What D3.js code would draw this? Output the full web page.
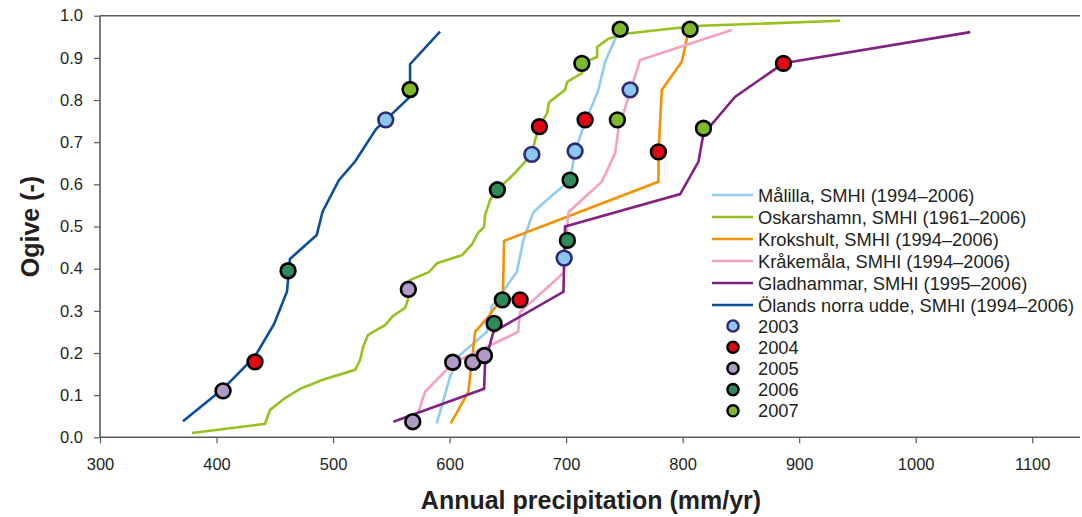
<!DOCTYPE html>
<html>
<head>
<meta charset="utf-8">
<script src="https://cdn.jsdelivr.net/npm/d3@7"></script>
<style>
  body { margin: 0; background: #fff; }
  text { font-family: "Liberation Sans", Arial, sans-serif; fill: #231f20; }
</style>
</head>
<body>
<div id="chart"></div>
<script>
// ogive curves, [annual precipitation mm/yr, ogive]
var malilla = [[589.0,0.033],[600.4,0.144],[609.0,0.195],[631.9,0.250],[636.2,0.310],[657.7,0.392],
  [663.3,0.468],[671.9,0.534],[683.4,0.563],[703.4,0.610],[707.7,0.679],[713.5,0.725],[720.6,0.776],
  [727.7,0.824],[733.5,0.891],[744.9,0.962]];
var oskarshamn = [[379.0,0.010],[441.6,0.032],[445.9,0.065],[458.8,0.093],[471.7,0.115],[490.6,0.136],
  [518.9,0.160],[523.2,0.183],[525.8,0.214],[530.0,0.243],[544.6,0.266],[551.5,0.288],[561.8,0.307],
  [564.4,0.328],[566.1,0.373],[582.4,0.392],[589.3,0.413],[610.7,0.432],[619.3,0.458],[624.5,0.485],
  [629.6,0.499],[630.5,0.527],[634.8,0.563],[640.8,0.587],[656.2,0.627],[670.8,0.672],[673.4,0.705],
  [676.8,0.736],[683.7,0.769],[685.4,0.795],[699.1,0.824],[700.9,0.843],[713.7,0.864],[713.7,0.888],
  [726.6,0.902],[726.6,0.926],[736.1,0.945],[743.8,0.952],[750.6,0.957],[785.0,0.968],[815.0,0.976],
  [935.2,0.988]];
var krokshult = [[601.0,0.033],[616.1,0.108],[621.9,0.250],[633.0,0.285],[645.7,0.333],[646.8,0.466],
  [779.2,0.606],[779.4,0.681],[782.1,0.824],[799.3,0.891],[803.6,0.946],[805.6,0.961]];
var krakemala = [[573.0,0.058],[579.0,0.108],[603.0,0.176],[658.8,0.250],[660.5,0.297],[697.7,0.390],
  [700.6,0.487],[702.0,0.534],[730.6,0.606],[742.1,0.674],[744.9,0.731],[763.5,0.895],[842.2,0.966]];
var gladhammar = [[551.8,0.037],[629.6,0.115],[630.5,0.179],[637.6,0.250],[697.7,0.345],[699.1,0.500],
  [797.9,0.577],[813.6,0.654],[817.8,0.719],[845.1,0.808],[886.5,0.887],[1046.8,0.961]];
var oland = [[371.2,0.038],[405.6,0.115],[433.0,0.192],[449.4,0.269],[460.5,0.346],[463.0,0.423],
  [486.0,0.480],[491.0,0.535],[505.0,0.610],[518.9,0.654],[536.9,0.731],[566.1,0.808],[566.1,0.885],
  [591.8,0.962]];

var seriesNames = ["Målilla, SMHI (1994–2006)", "Oskarshamn, SMHI (1961–2006)", "Krokshult, SMHI (1994–2006)",
  "Kråkemåla, SMHI (1994–2006)", "Gladhammar, SMHI (1995–2006)", "Ölands norra udde, SMHI (1994–2006)"];
var seriesColors = ["#8fcdf0", "#96c11f", "#f39200", "#f4a0c4", "#822181", "#0b4f9c"];
var seriesData = [malilla, oskarshamn, krokshult, krakemala, gladhammar, oland];

// single years marked on the curves
var years = ["2003", "2004", "2005", "2006", "2007"];
var yearFill = ["#8cc8ee", "#e30613", "#b09ac8", "#2f8a5a", "#7db928"];
var yearStroke = ["#2d2a78", "#000", "#000", "#000", "#000"];
var points2003 = [[545.2,0.753],[670.6,0.671],[707.7,0.679],[698.3,0.425],[754.9,0.824]];
var points2004 = [[433.0,0.179],[677.1,0.737],[716.3,0.753],[660.5,0.326],[779.2,0.677],[886.5,0.887]];
var points2005 = [[405.6,0.110],[564.6,0.351],[568.4,0.037],[602.7,0.178],[619.9,0.178],[629.9,0.194]];
var points2006 = [[461.4,0.395],[641.0,0.587],[703.4,0.610],[645.3,0.326],[638.2,0.270],[701.1,0.467]];
var points2007 = [[566.1,0.825],[713.5,0.887],[746.4,0.968],[806.4,0.968],[744.0,0.753],[817.9,0.733]];
var yearPoints = [points2003, points2004, points2005, points2006, points2007];

var xTicks = [300, 400, 500, 600, 700, 800, 900, 1000, 1100];
var yTicks = [0, 0.1, 0.2, 0.3, 0.4, 0.5, 0.6, 0.7, 0.8, 0.9, 1.0];

var width = 1082, height = 517;
var plotLeft = 100, plotRight = 1080, plotTop = 15.7, plotBottom = 437.3;

var svg = d3.select("#chart").append("svg")
  .attr("width", width)
  .attr("height", height);

var x = d3.scaleLinear().domain([300, 1141]).range([plotLeft, plotRight]);
var y = d3.scaleLinear().domain([0, 1]).range([plotBottom, plotTop]);

// frame: top line and the two axes
svg.append("line")
  .attr("x1", plotLeft).attr("x2", plotRight)
  .attr("y1", plotTop).attr("y2", plotTop)
  .style("stroke", "#5a5a5a").style("stroke-width", 1.6);

var xAxis = svg.append("g")
  .attr("transform", "translate(0," + plotBottom + ")")
  .call(d3.axisBottom(x).tickValues(xTicks).tickSize(6).tickPadding(15).tickSizeOuter(0)
    .tickFormat(d3.format("d")));
var yAxis = svg.append("g")
  .attr("transform", "translate(" + plotLeft + ",0)")
  .call(d3.axisLeft(y).tickValues(yTicks).tickSize(6).tickPadding(11).tickSizeOuter(0)
    .tickFormat(d3.format(".1f")));

[xAxis, yAxis].forEach(function (ax) {
  ax.select(".domain").style("stroke", "#5a5a5a").style("stroke-width", 1.6);
  ax.selectAll(".tick line").style("stroke", "#5a5a5a").style("stroke-width", 1.2);
  ax.selectAll(".tick text").style("font-size", "16.5px").style("fill", "#231f20")
    .style("font-family", "Liberation Sans, Arial, sans-serif");
});
yAxis.select(".domain").attr("d", "M0," + plotBottom + "V" + plotTop);
xAxis.select(".domain").attr("d", "M" + plotLeft + ",0H" + plotRight);

// axis titles
svg.append("text")
  .attr("x", 591).attr("y", 509)
  .attr("text-anchor", "middle")
  .style("font-size", "25px").style("font-weight", "bold")
  .text("Annual precipitation (mm/yr)");
svg.append("text")
  .attr("transform", "translate(39," + (plotTop + plotBottom) / 2 + ") rotate(-90)")
  .attr("text-anchor", "middle")
  .style("font-size", "25px").style("font-weight", "bold")
  .text("Ogive (-)");

// ogive lines
var line = d3.line()
  .x(function (d) { return x(d[0]); })
  .y(function (d) { return y(d[1]); });

svg.append("g")
  .selectAll("path")
  .data(seriesData)
  .enter()
  .append("path")
  .attr("d", line)
  .style("fill", "none")
  .style("stroke", function (d, i) { return seriesColors[i]; })
  .style("stroke-width", 2.6)
  .style("stroke-linejoin", "miter");

// year markers
yearPoints.forEach(function (pts, i) {
  svg.append("g")
    .selectAll("circle")
    .data(pts)
    .enter()
    .append("circle")
    .attr("cx", function (d) { return x(d[0]); })
    .attr("cy", function (d) { return y(d[1]); })
    .attr("r", 7.4)
    .style("fill", yearFill[i])
    .style("stroke", yearStroke[i])
    .style("stroke-width", 2.6);
});

// legend
var legend = svg.append("g").attr("transform", "translate(712,0)");
seriesNames.forEach(function (name, i) {
  var ly = 195 + i * 22;
  legend.append("line")
    .attr("x1", 0).attr("x2", 41)
    .attr("y1", ly).attr("y2", ly)
    .style("stroke", seriesColors[i]).style("stroke-width", 2.6);
  legend.append("text")
    .attr("x", 46).attr("y", ly)
    .attr("dy", "0.36em")
    .style("font-size", "18.3px")
    .text(name);
});
years.forEach(function (yr, i) {
  var ly = 326 + i * 21.2;
  legend.append("circle")
    .attr("cx", 21).attr("cy", ly)
    .attr("r", 5.6)
    .style("fill", yearFill[i])
    .style("stroke", yearStroke[i])
    .style("stroke-width", 2.4);
  legend.append("text")
    .attr("x", 46).attr("y", ly)
    .attr("dy", "0.36em")
    .style("font-size", "18.3px")
    .text(yr);
});
</script>
</body>
</html>
